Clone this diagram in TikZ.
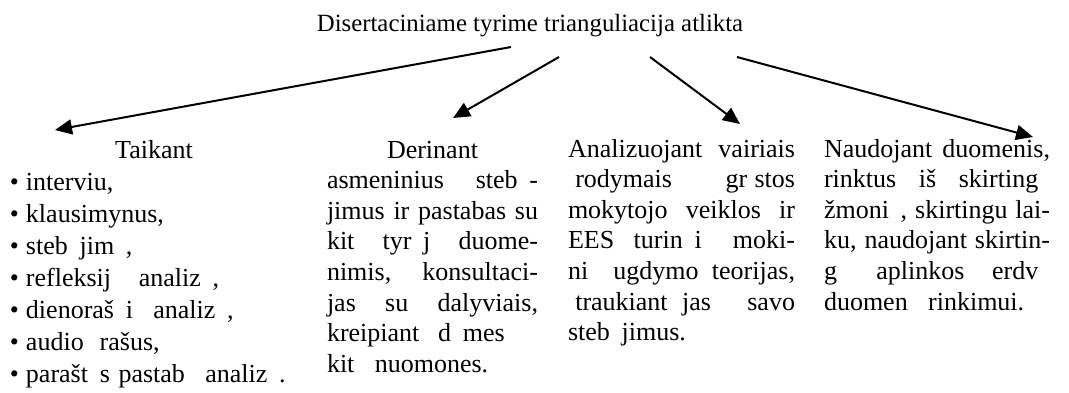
\documentclass[tikz,border=0pt]{standalone}
\usepackage{fontspec}
\setmainfont{Liberation Serif}
\usetikzlibrary{arrows.meta}

% blank place of a letter the text face did not print
\newcommand\lgap{\hspace*{0.45em}}
\newcommand\igap{\hspace*{0.28em}}
% one fully justified line (word spaces stretch), a centred line, and a bullet
\newcommand\jline[1]{\hbox to \linewidth{\spaceskip=0.25em plus 1fil\relax #1}\par}
\newcommand\ctrline[1]{\hbox to \linewidth{\hfil #1\hfil}\par}
\newcommand\bul{\makebox[8pt][l]{•}}

\tikzset{
  colbox/.style={inner sep=0pt, outer sep=0pt, anchor=base west,
    font=\fontsize{13}{15.3}\selectfont},
  listbox/.style={colbox, font=\fontsize{13}{16}\selectfont},
  headbox/.style={inner sep=0pt, anchor=base, font=\fontsize{12.4}{14}\selectfont},
  link/.style={line width=1pt, -{Triangle[length=8.5pt,width=7.5pt]}}
}

\begin{document}
\begin{tikzpicture}[x=0.5pt, y=-0.5pt]
\useasboundingbox (0,0) rectangle (1069,392);

\node[headbox] (head) at (530,31) {Disertaciniame tyrime trianguliacija atlikta};

\node[listbox, text width=144pt] (c1) at (10,158) {%
\ctrline{Taikant}
\bul interviu,\par
\bul klausimynus,\par
\bul steb\lgap jim\lgap,\par
\bul refleksij\lgap\ \igap analiz\lgap,\par
\bul dienoraš\lgap i\lgap\ analiz\lgap,\par
\bul audio \igap rašus,\par
\bul parašt\lgap s pastab\lgap\ analiz\lgap.\par};

\node[colbox, text width=105.5pt] (c2) at (327,158) {%
\ctrline{Derinant}
\jline{asmeninius steb\lgap-}
\jline{jimus ir pastabas su}
\jline{kit\lgap\ tyr\lgap j\lgap\ duome-}
\jline{nimis, konsultaci-}
\jline{jas su dalyviais,}
\jline{kreipiant d\lgap mes\igap\ \igap}
kit\lgap\ nuomones.\par};

\node[colbox, text width=113.5pt] (c3) at (568,157) {%
\jline{Analizuojant \igap vairiais}
\jline{\igap rodymais gr\igap stos}
\jline{mokytojo veiklos ir}
\jline{EES turin\lgap i\lgap\ moki-}
\jline{ni\lgap\ ugdymo teorijas,}
\jline{\igap traukiant jas \igap\ savo}
steb\lgap jimus.\par};

\node[colbox, text width=113pt] (c4) at (824,157) {%
\jline{Naudojant duomenis,}
\jline{rinktus iš skirting\lgap}
\jline{žmoni\lgap, skirtingu lai-}
\jline{ku, naudojant skirtin-}
\jline{g\lgap\ aplinkos erdv\lgap}
duomen\lgap\ rinkimui.\par};

% arrow ends
\coordinate (s1) at (511,47);  \coordinate (t1) at (55,130);
\coordinate (s2) at (559,57);  \coordinate (t2) at (453,118);
\coordinate (s3) at (650,57);  \coordinate (t3) at (740,124);
\coordinate (s4) at (737,57);  \coordinate (t4) at (1033,137);

\draw[link] (s1) -- (t1);
\draw[link] (s2) -- (t2);
\draw[link] (s3) -- (t3);
\draw[link] (s4) -- (t4);
\end{tikzpicture}
\end{document}
